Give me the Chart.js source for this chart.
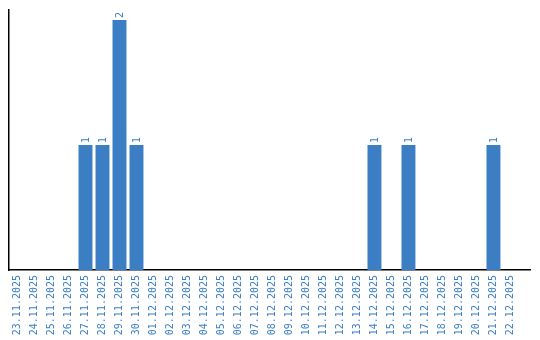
<!DOCTYPE html>
<html>
<head>
<meta charset="utf-8">
<script src="https://cdn.jsdelivr.net/npm/chart.js@4"></script>
<style>
  html, body { margin: 0; padding: 0; background: #fff; }
  #chart { display: block; }
</style>
</head>
<body>
<canvas id="chart" width="540" height="340"></canvas>
<script>
const dates = [
  "23.11.2025", "24.11.2025", "25.11.2025", "26.11.2025", "27.11.2025",
  "28.11.2025", "29.11.2025", "30.11.2025", "01.12.2025", "02.12.2025",
  "03.12.2025", "04.12.2025", "05.12.2025", "06.12.2025", "07.12.2025",
  "08.12.2025", "09.12.2025", "10.12.2025", "11.12.2025", "12.12.2025",
  "13.12.2025", "14.12.2025", "15.12.2025", "16.12.2025", "17.12.2025",
  "18.12.2025", "19.12.2025", "20.12.2025", "21.12.2025", "22.12.2025",
];
const counts = [
  0, 0, 0, 0, 1,
  1, 2, 1, 0, 0,
  0, 0, 0, 0, 0,
  0, 0, 0, 0, 0,
  0, 1, 0, 1, 0,
  0, 0, 0, 1, 0,
];

const blue = "#3b7ec3";
const font = "DejaVu Sans Mono";

// value labels above each bar, rotated like the axis labels
const valueLabels = {
  id: "valueLabels",
  afterDatasetsDraw(chart) {
    const ctx = chart.ctx;
    const meta = chart.getDatasetMeta(0);
    ctx.save();
    ctx.fillStyle = blue;
    ctx.font = "10px '" + font + "'";
    ctx.textAlign = "left";
    ctx.textBaseline = "middle";
    meta.data.forEach((bar, i) => {
      const v = counts[i];
      if (!v) return;
      ctx.save();
      ctx.translate(bar.x + 1, bar.y - 2);
      ctx.rotate(-Math.PI / 2);
      ctx.fillText(String(v), 0, 0);
      ctx.restore();
    });
    ctx.restore();
  },
};

new Chart(document.getElementById("chart"), {
  type: "bar",
  data: {
    labels: dates,
    datasets: [
      {
        data: counts,
        backgroundColor: blue,
        barPercentage: 0.82,
        categoryPercentage: 1,
      },
    ],
  },
  options: {
    responsive: false,
    animation: false,
    layout: { padding: { left: 9, right: 10, top: 10, bottom: 0 } },
    plugins: {
      legend: { display: false },
      tooltip: { enabled: false },
    },
    scales: {
      x: {
        offset: true,
        // leave some empty room at the right end of the axis
        afterBuildTicks: (s) => { s._valueRange += 0.65; },
        afterFit: (s) => { s.height = 70; },
        grid: { display: false, drawTicks: false },
        border: { display: true, color: "#000", width: 1.5 },
        ticks: {
          color: blue,
          font: { family: font, size: 10 },
          minRotation: 90,
          maxRotation: 90,
          autoSkip: false,
          padding: 5,
        },
      },
      y: {
        min: 0,
        max: 2.08,
        grid: { display: false, drawTicks: false },
        border: { display: true, color: "#000", width: 1.5 },
        ticks: { display: false },
      },
    },
  },
  plugins: [valueLabels],
});
</script>
</body>
</html>
